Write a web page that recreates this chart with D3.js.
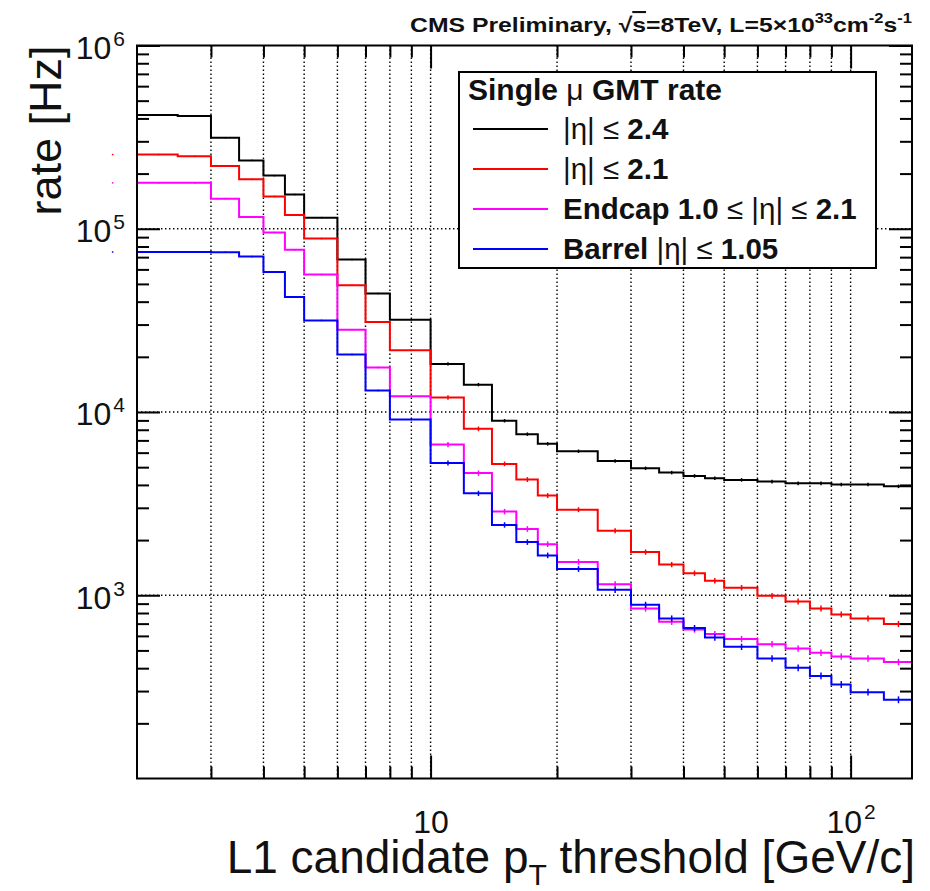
<!DOCTYPE html>
<html>
<head>
<meta charset="utf-8">
<script src="https://cdn.jsdelivr.net/npm/d3@7"></script>
<style>
  html, body { margin: 0; padding: 0; background: #fff; }
  svg { display: block; }
</style>
</head>
<body>
<svg id="chart" width="930" height="891"></svg>
<script>
// ---- data: L1 single-muon GMT rate vs. pT threshold ----
const binEdges = [1.5, 2, 2.5, 3, 3.5, 4, 4.5, 5, 6, 7, 8, 10, 12, 14, 16, 18, 20, 25, 30, 35, 40, 45, 50, 60, 70, 80, 90, 100, 120, 140];

const rateEta24 = [null, 4.17e5, 4.12e5, 3.14e5, 2.36e5, 1.95e5, 1.54e5, 1.15e5, 6.79e4, 4.43e4, 3.19e4,
  18300, 14100, 8960, 7570, 6700, 6110, 5410, 4930, 4670, 4480, 4350, 4260, 4170, 4080, 4080, 4020, 4020, 3930];
const errEta24 = [0, 0, 0, 0, 0, 0, 0, 0, 0, 0, 0,
  220, 170, 110, 95, 85, 75, 68, 62, 60, 58, 56, 55, 54, 53, 53, 52, 52, 51];

const rateEta21 = [2.54e5, 2.54e5, 2.49e5, 2.20e5, 1.86e5, 1.50e5, 1.19e5, 8.84e4, 4.91e4, 3.10e4, 2.17e4,
  12000, 8090, 5210, 4280, 3500, 2930, 2250, 1720, 1470, 1320, 1200, 1100, 993, 925, 847, 786, 747, 697];
const errEta21 = [0, 0, 0, 0, 0, 0, 0, 0, 0, 0, 0,
  240, 160, 105, 90, 75, 62, 50, 40, 35, 32, 30, 28, 26, 25, 23, 22, 21, 20];

const rateEndcap = [1.78e5, 1.78e5, 1.78e5, 1.46e5, 1.16e5, 9.53e4, 7.69e4, 5.62e4, 2.81e4, 1.75e4, 1.22e4,
  6640, 4640, 2860, 2300, 1900, 1520, 1150, 847, 716, 650, 614, 577, 541, 512, 486, 463, 452, 432];
const errEndcap = [0, 0, 0, 0, 0, 0, 0, 0, 0, 0, 0,
  150, 110, 72, 60, 50, 40, 32, 25, 21, 19, 18, 17, 16, 15, 15, 14, 14, 13];

const rateBarrel = [7.47e4, 7.47e4, 7.47e4, 7.45e4, 7.05e4, 5.81e4, 4.24e4, 3.16e4, 2.06e4, 1.31e4, 9100,
  5270, 3600, 2420, 1950, 1650, 1390, 1070, 887, 747, 662, 588, 523, 452, 402, 363, 326, 296, 269];
const errBarrel = [0, 0, 0, 0, 0, 0, 0, 0, 0, 0, 0,
  120, 85, 60, 50, 43, 37, 30, 26, 22, 20, 18, 16, 14, 13, 12, 11, 10, 9];

const seriesColors = ["#000000", "#ff0000", "#ff00ff", "#0000ff"];
const legendHeader = "**Single** μ **GMT rate**";
const legendLabels = ["|η| ≤ **2.4**", "|η| ≤ **2.1**", "**Endcap 1.0** ≤ |η| ≤ **2.1**", "**Barrel** |η| ≤ **1.05**"];

const xDomain = [2, 140];
const yDomain = [100, 1e6];
const xMajorTicks = [10, 100];
const xMinorTicks = [3, 4, 5, 6, 7, 8, 9, 20, 30, 40, 50, 60, 70, 80, 90];
const yMajorTicks = [1e3, 1e4, 1e5, 1e6];
const yMinorTicks = [2, 3, 4, 5, 6, 7, 8, 9].flatMap(m => [1e2, 1e3, 1e4, 1e5].map(d => m * d));
const xGridValues = [3, 4, 5, 6, 7, 8, 9, 10, 20, 30, 40, 50, 60, 70, 80, 90, 100];
const yGridValues = [1e3, 1e4, 1e5];

const xTitle = "L1 candidate p";
const xTitleSub = "T";
const xTitleRest = " threshold [GeV/c]";
const yTitle = "rate [Hz]";

// ---- layout ----
const FONT = '"Liberation Sans", Arial, Helvetica, sans-serif';
const frame = { left: 137, right: 912, top: 45.5, bottom: 778.5 };

const svg = d3.select("#chart");
const x = d3.scaleLog().domain(xDomain).range([frame.left, frame.right]);
const y = d3.scaleLog().domain(yDomain).range([frame.bottom, frame.top]);

svg.append("defs").append("clipPath").attr("id", "plotClip")
  .append("rect")
  .attr("x", frame.left).attr("y", frame.top)
  .attr("width", frame.right - frame.left).attr("height", frame.bottom - frame.top);

// ---- grid ----
const grid = svg.append("g")
  .attr("stroke", "#000").attr("stroke-width", 1.4).attr("stroke-dasharray", "1.4,2.6");
grid.selectAll("line.gx").data(xGridValues).join("line").attr("class", "gx")
  .attr("x1", d => x(d)).attr("x2", d => x(d))
  .attr("y1", frame.top).attr("y2", frame.bottom);
grid.selectAll("line.gy").data(yGridValues).join("line").attr("class", "gy")
  .attr("x1", frame.left).attr("x2", frame.right)
  .attr("y1", d => y(d)).attr("y2", d => y(d));

// ---- histograms ----
const series = [
  { values: rateEta24, errors: errEta24 },
  { values: rateEta21, errors: errEta21 },
  { values: rateEndcap, errors: errEndcap },
  { values: rateBarrel, errors: errBarrel }
].map((s, i) => ({ ...s, color: seriesColors[i] }));

const stepLine = d3.line()
  .defined(d => d.v != null)
  .x(d => x(d.e)).y(d => y(d.v))
  .curve(d3.curveStepAfter);

const histG = svg.append("g");
series.forEach(s => {
  const pts = s.values.map((v, i) => ({ e: binEdges[i], v }));
  pts.push({ e: binEdges[binEdges.length - 1], v: s.values[s.values.length - 1] });
  histG.append("path")
    .attr("d", stepLine(pts))
    .attr("fill", "none")
    .attr("stroke", s.color)
    .attr("stroke-width", 2)
    .attr("clip-path", "url(#plotClip)");
});

// statistical error bars at bin centres
series.forEach(s => {
  const bars = s.values.map((v, i) => ({ v, err: s.errors[i], c: (binEdges[i] + binEdges[i + 1]) / 2 }))
    .filter(d => d.v != null);
  histG.append("g").selectAll("line").data(bars).join("line")
    .attr("x1", d => x(d.c)).attr("x2", d => x(d.c))
    .attr("y1", d => y(d.v - d.err)).attr("y2", d => y(d.v + d.err))
    .attr("stroke", s.color)
    .attr("stroke-width", 1.5)
    .attr("stroke-linecap", "square");
});

// ---- axes (ticks inward on all four sides) ----
const axisG = svg.append("g").attr("font-family", FONT);

function styleAxis(g) {
  g.select(".domain").remove();
  g.selectAll(".tick line").attr("stroke", "#000").attr("stroke-width", 2);
}

// bottom
axisG.append("g").attr("transform", `translate(0,${frame.bottom})`)
  .call(d3.axisBottom(x).tickValues(xMinorTicks).tickSizeInner(-12).tickSizeOuter(0).tickFormat(""))
  .call(styleAxis);
const xMajor = axisG.append("g").attr("transform", `translate(0,${frame.bottom})`)
  .call(d3.axisBottom(x).tickValues(xMajorTicks).tickSizeInner(-23).tickSizeOuter(0).tickPadding(0))
  .call(styleAxis);
// top
axisG.append("g").attr("transform", `translate(0,${frame.top})`)
  .call(d3.axisTop(x).tickValues(xMinorTicks).tickSizeInner(-12).tickSizeOuter(0).tickFormat(""))
  .call(styleAxis);
axisG.append("g").attr("transform", `translate(0,${frame.top})`)
  .call(d3.axisTop(x).tickValues(xMajorTicks).tickSizeInner(-23).tickSizeOuter(0).tickFormat(""))
  .call(styleAxis);
// left
axisG.append("g").attr("transform", `translate(${frame.left},0)`)
  .call(d3.axisLeft(y).tickValues(yMinorTicks).tickSizeInner(-12).tickSizeOuter(0).tickFormat(""))
  .call(styleAxis);
const yMajor = axisG.append("g").attr("transform", `translate(${frame.left},0)`)
  .call(d3.axisLeft(y).tickValues(yMajorTicks).tickSizeInner(-23).tickSizeOuter(0).tickPadding(12))
  .call(styleAxis);
// right
axisG.append("g").attr("transform", `translate(${frame.right},0)`)
  .call(d3.axisRight(y).tickValues(yMinorTicks).tickSizeInner(-12).tickSizeOuter(0).tickFormat(""))
  .call(styleAxis);
axisG.append("g").attr("transform", `translate(${frame.right},0)`)
  .call(d3.axisRight(y).tickValues(yMajorTicks).tickSizeInner(-23).tickSizeOuter(0).tickFormat(""))
  .call(styleAxis);

// power-of-ten labels
function powerLabel(text, d, showOneDecade) {
  const exp = Math.round(Math.log10(d));
  text.text(null).attr("fill", "#111").attr("font-size", 32);
  text.append("tspan").text("10");
  if (!(showOneDecade && exp === 1)) {
    text.append("tspan").attr("font-size", 21).attr("dy", "-0.62em").attr("dx", 2).text(String(exp));
  }
}
yMajor.selectAll(".tick text").each(function (d) {
  const t = d3.select(this).attr("dy", "0.4em").attr("text-anchor", "end");
  powerLabel(t, d, false);
});
xMajor.selectAll(".tick text").each(function (d) {
  const t = d3.select(this).attr("y", 54).attr("dy", 0).attr("text-anchor", "middle");
  powerLabel(t, d, true);
});

// frame
svg.append("rect")
  .attr("x", frame.left).attr("y", frame.top)
  .attr("width", frame.right - frame.left).attr("height", frame.bottom - frame.top)
  .attr("fill", "none").attr("stroke", "#000").attr("stroke-width", 2);

// ---- axis titles ----
const xt = svg.append("text")
  .attr("x", frame.right + 3).attr("y", 873)
  .attr("text-anchor", "end")
  .attr("font-family", FONT).attr("font-size", 46).attr("fill", "#111");
xt.append("tspan").text(xTitle);
xt.append("tspan").attr("font-size", 30).attr("dy", 12).text(xTitleSub);
xt.append("tspan").attr("dy", -12).text(xTitleRest);

svg.append("text")
  .attr("transform", `translate(61,${frame.top}) rotate(-90)`)
  .attr("text-anchor", "end")
  .attr("font-family", FONT).attr("font-size", 45).attr("fill", "#111")
  .text(yTitle);

// ---- header ----
const hdr = svg.append("text")
  .attr("x", frame.right).attr("y", 32)
  .attr("text-anchor", "end")
  .attr("textLength", 502).attr("lengthAdjust", "spacingAndGlyphs")
  .attr("font-family", FONT).attr("font-size", 21).attr("font-weight", "bold").attr("fill", "#111");
hdr.append("tspan").text("CMS Preliminary,  √");
hdr.append("tspan").attr("text-decoration", "overline").text("s");
hdr.append("tspan").text("=8TeV, L=5×10");
hdr.append("tspan").attr("font-size", 14).attr("dy", -9).text("33");
hdr.append("tspan").attr("dy", 9).text("cm");
hdr.append("tspan").attr("font-size", 14).attr("dy", -9).text("-2");
hdr.append("tspan").attr("dy", 9).text("s");
hdr.append("tspan").attr("font-size", 14).attr("dy", -9).text("-1");

// ---- legend ----
const legend = { x: 459, y: 72, w: 417, h: 196, rowH: 40 };
const legG = svg.append("g").attr("font-family", FONT).attr("fill", "#111");
legG.append("rect")
  .attr("x", legend.x).attr("y", legend.y).attr("width", legend.w).attr("height", legend.h)
  .attr("fill", "#fff").attr("stroke", "#000").attr("stroke-width", 2);

function richText(sel, markup) {
  markup.split("**").forEach((part, i) => {
    if (!part) return;
    sel.append("tspan").attr("font-weight", i % 2 ? "bold" : "normal").text(part);
  });
}

richText(legG.append("text").attr("x", legend.x + 9).attr("y", legend.y + 28).attr("font-size", 30), legendHeader);

legendLabels.forEach((lab, i) => {
  const cy = legend.y + 57 + i * legend.rowH;
  legG.append("line")
    .attr("x1", legend.x + 14).attr("x2", legend.x + 89)
    .attr("y1", cy).attr("y2", cy)
    .attr("stroke", seriesColors[i]).attr("stroke-width", 2);
  richText(legG.append("text").attr("x", legend.x + 104).attr("y", cy + 10).attr("font-size", 29.5), lab);
});
</script>
</body>
</html>
